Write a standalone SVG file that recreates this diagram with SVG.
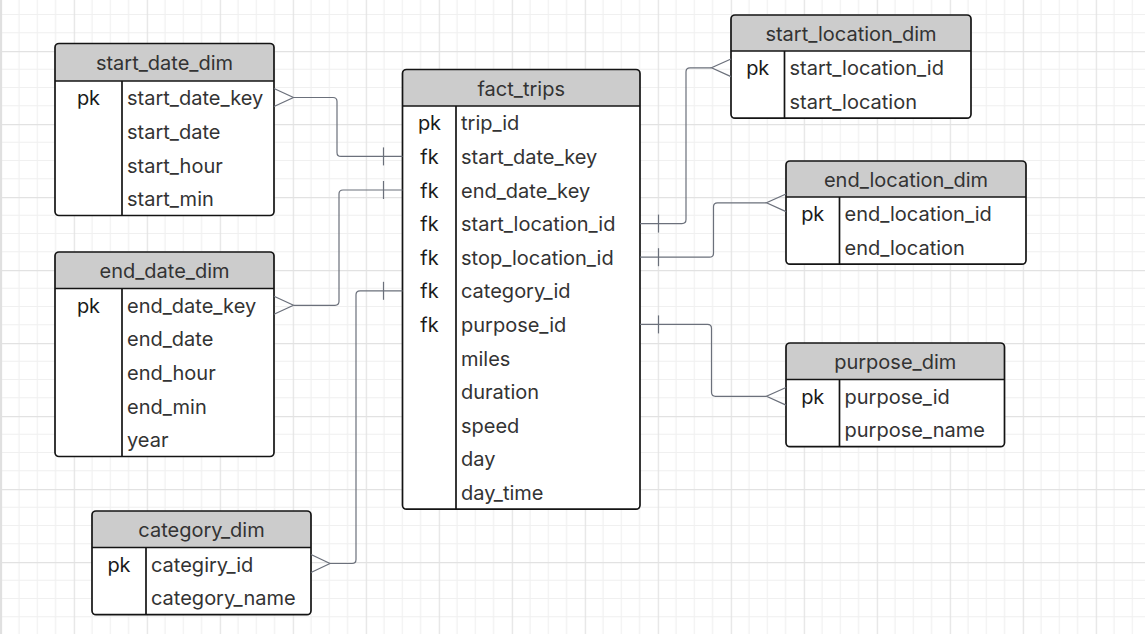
<svg xmlns="http://www.w3.org/2000/svg" width="1145" height="634" viewBox="0 0 1145 634">
<defs>
<pattern id="grid" patternUnits="userSpaceOnUse" x="73.75" y="51" width="73" height="73">
<path d="M18.25 0V73M36.5 0V73M54.75 0V73M0 18.25H73M0 36.5H73M0 54.75H73" stroke="#f0f0f0" stroke-width="1.2" fill="none"/>
<path d="M0.5 0V73M0 0.5H73" stroke="#e2e2e2" stroke-width="1.4" fill="none"/>
</pattern>
</defs>
<style>
.box{fill:#fff;stroke:none}
.frame{fill:none;stroke:#141414;stroke-width:1.7}
.hdr{fill:#cccccc}
.sep{stroke:#141414;stroke-width:1.7;fill:none}
text{font-family:Inter,"Noto Sans","Liberation Sans",sans-serif;font-size:20px;dominant-baseline:central}
.title{fill:#333;text-anchor:middle}
.key{fill:#1a1a1a;text-anchor:middle}
.fld{fill:#333}
.conn path{fill:none;stroke:#6b707b;stroke-width:1.2}
</style>
<rect width="1145" height="634" fill="#fff"/>
<rect width="1145" height="634" fill="url(#grid)"/>
<rect x="0" y="0" width="2" height="634" fill="#e0e0e0"/>

<g id="start_date_dim">
<rect class="box" x="55" y="43.5" width="219" height="172" rx="4"/>
<path class="hdr" d="M55 81V47.5Q55 43.5 59 43.5H270Q274 43.5 274 47.5V81Z"/>
<path class="sep" d="M55 81H274M122 81V215.5"/>
<rect class="frame" x="55" y="43.5" width="219" height="172" rx="4"/>
<text class="title" x="164.5" y="63">start_date_dim</text>
<text class="key" x="88.5" y="98.3">pk</text>
<text class="fld" x="127" y="98.3">start_date_key</text>
<text class="fld" x="127" y="131.9">start_date</text>
<text class="fld" x="127" y="165.5">start_hour</text>
<text class="fld" x="127" y="199.1">start_min</text>
</g>

<g id="end_date_dim">
<rect class="box" x="55" y="252" width="219" height="204.5" rx="4"/>
<path class="hdr" d="M55 288.5V256Q55 252 59 252H270Q274 252 274 256V288.5Z"/>
<path class="sep" d="M55 288.5H274M122 288.5V456.5"/>
<rect class="frame" x="55" y="252" width="219" height="204.5" rx="4"/>
<text class="title" x="164.5" y="271">end_date_dim</text>
<text class="key" x="88.5" y="305.8">pk</text>
<text class="fld" x="127" y="305.8">end_date_key</text>
<text class="fld" x="127" y="339.4">end_date</text>
<text class="fld" x="127" y="373">end_hour</text>
<text class="fld" x="127" y="406.6">end_min</text>
<text class="fld" x="127" y="440.2">year</text>
</g>

<g id="fact_trips">
<rect class="box" x="402.5" y="69.5" width="237.5" height="439.7" rx="4"/>
<path class="hdr" d="M402.5 106V73.5Q402.5 69.5 406.5 69.5H636Q640 69.5 640 73.5V106Z"/>
<path class="sep" d="M402.5 106H640M456 106V509.2"/>
<rect class="frame" x="402.5" y="69.5" width="237.5" height="439.7" rx="4"/>
<text class="title" x="521.25" y="88.5">fact_trips</text>
<text class="key" x="429.5" y="123.3">pk</text>
<text class="key" x="429.5" y="156.9">fk</text>
<text class="key" x="429.5" y="190.5">fk</text>
<text class="key" x="429.5" y="224.1">fk</text>
<text class="key" x="429.5" y="257.7">fk</text>
<text class="key" x="429.5" y="291.3">fk</text>
<text class="key" x="429.5" y="324.9">fk</text>
<text class="fld" x="461" y="123.3">trip_id</text>
<text class="fld" x="461" y="156.9">start_date_key</text>
<text class="fld" x="461" y="190.5">end_date_key</text>
<text class="fld" x="461" y="224.1">start_location_id</text>
<text class="fld" x="461" y="257.7">stop_location_id</text>
<text class="fld" x="461" y="291.3">category_id</text>
<text class="fld" x="461" y="324.9">purpose_id</text>
<text class="fld" x="461" y="358.5">miles</text>
<text class="fld" x="461" y="392.1">duration</text>
<text class="fld" x="461" y="425.7">speed</text>
<text class="fld" x="461" y="459.3">day</text>
<text class="fld" x="461" y="492.9">day_time</text>
</g>

<g id="start_location_dim">
<rect class="box" x="731" y="15" width="240" height="103.2" rx="4"/>
<path class="hdr" d="M731 51V19Q731 15 735 15H967Q971 15 971 19V51Z"/>
<path class="sep" d="M731 51H971M784.5 51V118.2"/>
<rect class="frame" x="731" y="15" width="240" height="103.2" rx="4"/>
<text class="title" x="851" y="33.5">start_location_dim</text>
<text class="key" x="757.75" y="68.3">pk</text>
<text class="fld" x="789.5" y="68.3">start_location_id</text>
<text class="fld" x="789.5" y="101.9">start_location</text>
</g>

<g id="end_location_dim">
<rect class="box" x="786" y="161" width="240" height="103.2" rx="4"/>
<path class="hdr" d="M786 197V165Q786 161 790 161H1022Q1026 161 1026 165V197Z"/>
<path class="sep" d="M786 197H1026M839.5 197V264.2"/>
<rect class="frame" x="786" y="161" width="240" height="103.2" rx="4"/>
<text class="title" x="906" y="179.5">end_location_dim</text>
<text class="key" x="812.75" y="214.3">pk</text>
<text class="fld" x="844.5" y="214.3">end_location_id</text>
<text class="fld" x="844.5" y="247.9">end_location</text>
</g>

<g id="purpose_dim">
<rect class="box" x="786" y="343" width="218.5" height="103.7" rx="4"/>
<path class="hdr" d="M786 379.5V347Q786 343 790 343H1000.5Q1004.5 343 1004.5 347V379.5Z"/>
<path class="sep" d="M786 379.5H1004.5M839.5 379.5V446.7"/>
<rect class="frame" x="786" y="343" width="218.5" height="103.7" rx="4"/>
<text class="title" x="895.25" y="361.75">purpose_dim</text>
<text class="key" x="812.75" y="396.8">pk</text>
<text class="fld" x="844.5" y="396.8">purpose_id</text>
<text class="fld" x="844.5" y="430.4">purpose_name</text>
</g>

<g id="category_dim">
<rect class="box" x="92" y="511" width="219" height="103.7" rx="4"/>
<path class="hdr" d="M92 547.5V515Q92 511 96 511H307Q311 511 311 515V547.5Z"/>
<path class="sep" d="M92 547.5H311M146 547.5V614.7"/>
<rect class="frame" x="92" y="511" width="219" height="103.7" rx="4"/>
<text class="title" x="201.5" y="529.75">category_dim</text>
<text class="key" x="119" y="564.8">pk</text>
<text class="fld" x="151" y="564.8">categiry_id</text>
<text class="fld" x="151" y="598.4">category_name</text>
</g>

<g id="connectors" class="conn">
<path d="M293.5 97.5H333Q337 97.5 337 101.5V152.4Q337 156.4 341 156.4H402.5"/>
<path d="M274 88.5L293.5 97.5L274 106.5"/>
<path d="M383.5 147.4V165.4"/>

<path d="M293.5 305.3H335Q339 305.3 339 301.3V194Q339 190 343 190H402.5"/>
<path d="M274 296.3L293.5 305.3L274 314.3"/>
<path d="M383.5 181V199"/>

<path d="M330 563.5H352Q356 563.5 356 559.5V294.8Q356 290.8 360 290.8H402.5"/>
<path d="M311 554.5L330 563.5L311 572.5"/>
<path d="M383.5 281.8V299.8"/>

<path d="M640 223.6H682Q686 223.6 686 219.6V71.8Q686 67.8 690 67.8H711.5"/>
<path d="M731 59L711.5 67.8L731 76.6"/>
<path d="M658.5 214.6V232.6"/>

<path d="M640 257.2H709.5Q713.5 257.2 713.5 253.2V206.8Q713.5 202.8 717.5 202.8H766.5"/>
<path d="M786 194L766.5 202.8L786 211.6"/>
<path d="M658.5 248.2V266.2"/>

<path d="M640 324.4H707.5Q711.5 324.4 711.5 328.4V392.3Q711.5 396.3 715.5 396.3H766.5"/>
<path d="M786 387.5L766.5 396.3L786 405.1"/>
<path d="M658.5 315.4V333.4"/>
</g>
</svg>
